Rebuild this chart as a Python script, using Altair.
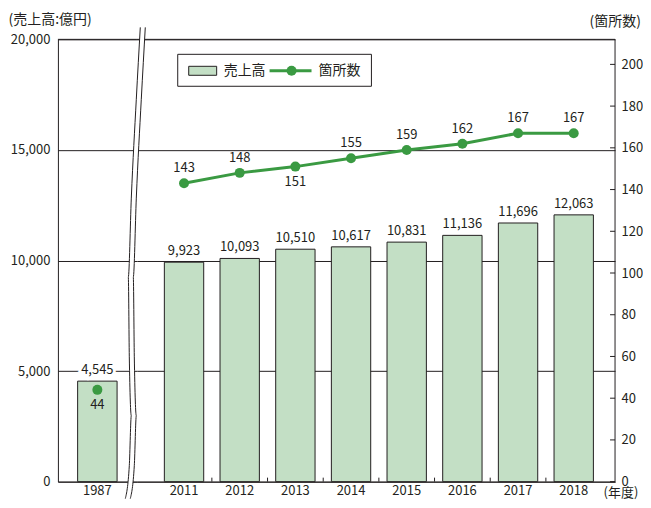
import altair as alt
import pandas as pd

# ---------------- data ----------------
years_left = ["1987"]
sales_left = [4545]
sites_left = [44]

years = ["2011", "2012", "2013", "2014", "2015", "2016", "2017", "2018"]
sales = [9923, 10093, 10510, 10617, 10831, 11136, 11696, 12063]
sites = [143, 148, 151, 155, 159, 162, 167, 167]
site_label_pos = ["above", "above", "below", "above", "above", "above", "above", "above"]

sales_ticks = [0, 5000, 10000, 15000, 20000]
site_ticks = [0, 20, 40, 60, 80, 100, 120, 140, 160, 180, 200]

legend_labels = ["売上高", "箇所数"]
title_sales = "(売上高:億円)"
title_sites = "(箇所数)"
title_year = "(年度)"

# break symbol (decoration) – pixel path relative to right panel
break_x = [6, 2, -3, -6, -5, -3, -5, -9]
break_y = [-12, 60, 159, 238, 318, 377, 427, 460]

# ---------------- style ----------------
FONT = "Noto Sans CJK JP"
BAR_FILL = "#c3dfc5"
GREEN = "#3a9a42"
INK = "#231f20"
H = 443
WL = 79
WR = 479
FS = 13
STEP = WR / 8.591

y_sales = alt.Scale(domain=[0, 20000], nice=False, zero=True)
y_sites = alt.Scale(domain=[0, 212], nice=False, zero=True)
one = pd.DataFrame({"k": [0]})

# ---------------- left panel (1987) ----------------
dl = pd.DataFrame({"year": years_left, "sales": sales_left, "sites": sites_left})
xl = alt.X("year:N", scale=alt.Scale(paddingInner=0.5, paddingOuter=0.25),
           axis=alt.Axis(title=None, ticks=False, labelAngle=0, labelPadding=3,
                         domainColor=INK))
sales_axis_l = alt.Axis(values=sales_ticks, format=",d", grid=True, gridColor=INK,
                        gridOpacity=1, ticks=False, labelPadding=8, domainColor=INK,
                        title=title_sales, titleAngle=0, titleAlign="left",
                        titleBaseline="middle", titleX=-50, titleY=-20)
ysl = alt.Y("sales:Q", scale=y_sales, axis=sales_axis_l)
bl = alt.Chart(dl)
bars_l = bl.mark_bar(fill=BAR_FILL, stroke=INK, strokeWidth=1).encode(x=xl, y=ysl)
halo_l = bl.mark_text(dy=-11, fontSize=FS, stroke="white", strokeWidth=6, color="white").encode(
    x=xl, y=ysl, text=alt.Text("sales:Q", format=","))
lab_l = bl.mark_text(dy=-11, fontSize=FS, color=INK).encode(
    x=xl, y=ysl, text=alt.Text("sales:Q", format=","))
top_l = alt.Chart(one).mark_rule(color=INK, strokeWidth=1).encode(
    x=alt.value(0), x2=alt.value(WL), y=alt.value(0))
pt_l = bl.mark_point(filled=True, size=100, color=GREEN, opacity=1).encode(
    x=xl, y=alt.Y("sites:Q", scale=y_sites, axis=None))
ptlab_l = bl.mark_text(dy=15, fontSize=FS, color=INK).encode(
    x=xl, y=alt.Y("sites:Q", scale=y_sites, axis=None), text="sites:Q")

left = alt.layer(
    alt.layer(bars_l, halo_l, lab_l, top_l),
    alt.layer(pt_l, ptlab_l),
).resolve_scale(y="independent").properties(width=WL, height=H)

# ---------------- right panel (2011-2018) ----------------
dr = pd.DataFrame({"year": years, "sales": sales, "sites": sites, "pos": site_label_pos})
xr = alt.X("year:N", scale=alt.Scale(paddingInner=0.293, paddingOuter=0.442, align=0.56),
           axis=alt.Axis(title=title_year, ticks=False, labelAngle=0, labelPadding=3,
                         domainColor=INK, titleX=WR - 12, titleY=5, titleAlign="left",
                         titleBaseline="top", titleFontSize=FS))
sales_axis_r = alt.Axis(values=sales_ticks, grid=True, gridColor=INK, gridOpacity=1,
                        labels=False, ticks=False, domain=False, title=None)
ysr = alt.Y("sales:Q", scale=y_sales, axis=sales_axis_r)
br = alt.Chart(dr)
bars_r = br.mark_bar(fill=BAR_FILL, stroke=INK, strokeWidth=1).encode(x=xr, y=ysr)
lab_r = br.mark_text(dy=-11, fontSize=FS, color=INK).encode(
    x=xr, y=ysr, text=alt.Text("sales:Q", format=","))
top_r = alt.Chart(one).mark_rule(color=INK, strokeWidth=1).encode(
    x=alt.value(0), x2=alt.value(WR), y=alt.value(0))
right_border = alt.Chart(one).mark_rule(color=INK, strokeWidth=1).encode(
    x=alt.value(WR), y=alt.value(0), y2=alt.value(H))
# small inward ticks between neighbouring bars
sep = alt.Chart(pd.DataFrame({"year": years[1:]})).mark_rule(
    color=INK, strokeWidth=1, xOffset=-STEP / 2).encode(
    x=xr, y=alt.value(H - 4), y2=alt.value(H))

y_site_axis = alt.Axis(orient="right", values=site_ticks, ticks=False, domain=False,
                       grid=False, labelPadding=6,
                       title=title_sites, titleAngle=0, titleAlign="left",
                       titleBaseline="middle", titleX=-26, titleY=-18)
ysite = alt.Y("sites:Q", scale=y_sites, axis=y_site_axis)
line_r = br.mark_line(color=GREEN, strokeWidth=3).encode(x=xr, y=ysite)
pt_r = br.mark_point(filled=True, size=100, color=GREEN, opacity=1).encode(x=xr, y=ysite)
above_r = br.transform_filter(alt.datum.pos == "above").mark_text(
    dy=-15, fontSize=FS, color=INK).encode(x=xr, y=ysite, text="sites:Q")
below_r = br.transform_filter(alt.datum.pos == "below").mark_text(
    dy=15, fontSize=FS, color=INK).encode(x=xr, y=ysite, text="sites:Q")
# inward ticks of the right axis
rticks = alt.Chart(pd.DataFrame({"sites": site_ticks})).mark_rule(
    color=INK, strokeWidth=1).encode(
    x=alt.value(WR - 5), x2=alt.value(WR), y=ysite)

# legend (decoration)
lg = alt.Chart(one)
LY = 31.5
leg_box = lg.mark_rect(fill="white", stroke=INK, strokeWidth=1).encode(
    x=alt.value(41), x2=alt.value(235), y=alt.value(15), y2=alt.value(47))
leg_sw = lg.mark_rect(fill=BAR_FILL, stroke=INK, strokeWidth=1).encode(
    x=alt.value(52), x2=alt.value(80), y=alt.value(27), y2=alt.value(36))
leg_t1 = lg.mark_text(text=legend_labels[0], fontSize=14, align="left", baseline="middle",
                      color=INK).encode(x=alt.value(87), y=alt.value(LY))
leg_ln = lg.mark_rule(color=GREEN, strokeWidth=3).encode(
    x=alt.value(133), x2=alt.value(175), y=alt.value(LY))
leg_pt = lg.mark_point(filled=True, size=100, color=GREEN, opacity=1).encode(
    x=alt.value(155), y=alt.value(LY))
leg_t2 = lg.mark_text(text=legend_labels[1], fontSize=14, align="left", baseline="middle",
                      color=INK).encode(x=alt.value(182), y=alt.value(LY))

# axis break (decoration)
dbk = pd.DataFrame({"bx": break_x, "by": break_y, "i": list(range(len(break_x)))})
bk = alt.Chart(dbk)
bk_enc = dict(x=alt.X("bx:Q", scale=None, axis=None), y=alt.Y("by:Q", scale=None, axis=None),
              order=alt.Order("i:Q"))
bk_white = bk.mark_line(color="white", strokeWidth=5, interpolate="monotone").encode(**bk_enc)
bk_a = bk.mark_line(color=INK, strokeWidth=1, xOffset=-2.5, interpolate="monotone").encode(**bk_enc)
bk_b = bk.mark_line(color=INK, strokeWidth=1, xOffset=2.5, interpolate="monotone").encode(**bk_enc)

right = alt.layer(
    alt.layer(bars_r, lab_r, top_r, right_border, sep),
    alt.layer(line_r, pt_r, above_r, below_r, rticks),
    alt.layer(leg_box, leg_sw, leg_t1, leg_ln, leg_pt, leg_t2),
    alt.layer(bk_white, bk_a, bk_b),
).resolve_scale(y="independent").properties(width=WR, height=H)

chart = alt.hconcat(left, right, spacing=0, bounds="flush").properties(
    padding={"left": 0, "top": 4, "right": 0, "bottom": 0}
).configure(font=FONT).configure_view(stroke=None).configure_axis(
    labelFont=FONT, labelFontSize=FS, labelColor=INK, titleFont=FONT, titleFontSize=14,
    titleFontWeight="normal", titleColor=INK
).configure_text(font=FONT)

chart.save("out.html", embed_options={"renderer": "svg", "actions": False})
